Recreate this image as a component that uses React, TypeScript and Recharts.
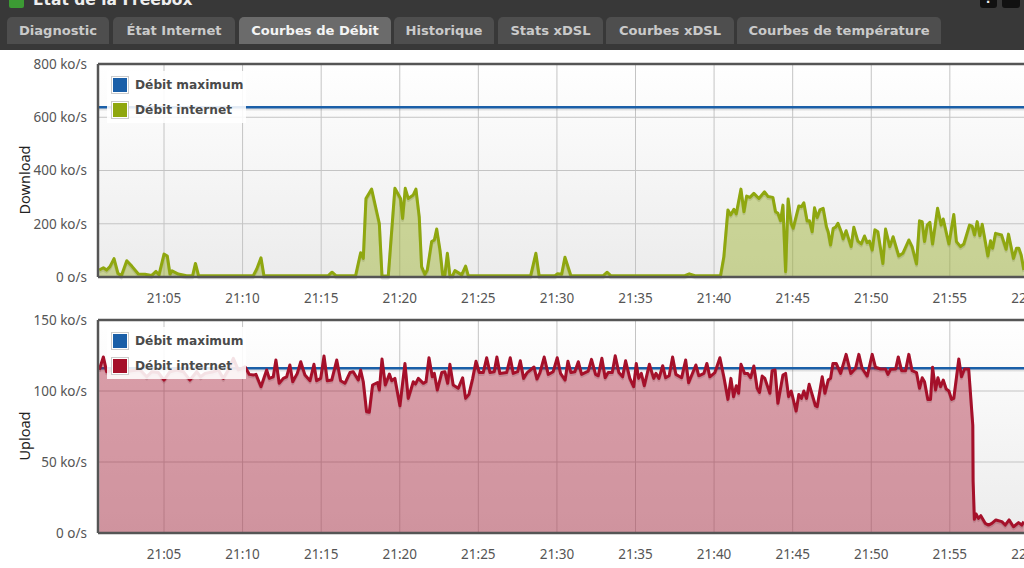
import { Area, CartesianGrid, ComposedChart, Legend, ReferenceLine, XAxis, YAxis } from "recharts";

// all times are minutes after 21:00
const timeTicks = [5, 10, 15, 20, 25, 30, 35, 40, 45, 50, 55, 60];
const xDomain = [0.8, 60.8];
const maxTimes = [0.8, 60.8];

const downTicks = [0, 200, 400, 600, 800];
const downMax = [638, 638];
const downTimes = [
  0.88, 1.14, 1.35, 1.56, 1.82, 2.07, 2.28, 2.63, 2.95, 3.37, 3.79, 4.22, 4.49, 4.68, 5.0, 5.21, 5.38, 5.51, 5.91, 6.44,
  6.82, 7.0, 7.2, 10.68, 10.9, 11.17, 11.36, 15.45, 15.69, 15.94, 17.19, 17.51, 17.68, 17.85, 18.21, 18.7, 18.87, 19.27,
  19.69, 20.05, 20.18, 20.35, 20.54, 20.86, 21.03, 21.24, 21.39, 21.6, 21.75, 22.03, 22.2, 22.35, 22.56, 22.73, 22.87,
  23.03, 23.19, 23.36, 23.51, 23.94, 24.19, 24.36, 28.33, 28.66, 28.87, 29.87, 30.04, 30.3, 30.51, 30.89, 32.95, 33.2,
  33.42, 38.14, 38.42, 38.78, 40.41, 40.62, 40.88, 41.05, 41.26, 41.41, 41.71, 41.9, 42.07, 42.28, 42.53, 42.85, 43.21,
  43.44, 43.74, 43.91, 44.06, 44.23, 44.38, 44.55, 44.71, 44.9, 45.03, 45.39, 45.56, 45.71, 45.92, 46.07, 46.24, 46.39,
  46.56, 46.73, 46.94, 47.15, 47.26, 47.41, 47.58, 47.73, 47.88, 48.09, 48.21, 48.4, 48.72, 48.89, 49.15, 49.36, 49.57,
  49.74, 49.89, 50.06, 50.23, 50.42, 50.74, 50.91, 51.18, 51.39, 51.75, 52.01, 52.39, 52.6, 52.88, 53.07, 53.24, 53.39,
  53.56, 53.73, 53.9, 54.22, 54.45, 54.58, 54.94, 55.25, 55.42, 55.68, 55.89, 56.25, 56.42, 56.57, 56.74, 56.91, 57.06,
  57.42, 57.59, 57.72, 57.91, 58.29, 58.58, 58.73, 59.05, 59.24, 59.39, 59.54, 59.71,
];
const downValues = [
  26, 35, 26, 39, 69, 14, 4, 61, 41, 11, 10, 6, 21, 8, 86, 79, 11, 23, 11, 5,
  5, 51, 5, 5, 30, 72, 5, 5, 18, 5, 5, 91, 70, 295, 330, 201, 4, 4,
  333, 295, 220, 333, 295, 308, 330, 226, 39, 10, 26, 133, 139, 180, 101, 8, 8,
  89, 5, 5, 24, 8, 41, 5, 5, 89, 5, 5, 12, 10, 74, 5, 5, 18,
  5, 5, 12, 5, 5, 76, 252, 233, 254, 237, 330, 245, 304, 299, 314, 295, 320,
  302, 299, 245, 239, 211, 270, 20, 293, 202, 183, 267, 264, 279, 210, 211, 170, 260,
  223, 252, 258, 189, 170, 120, 183, 187, 202, 170, 143, 174, 114, 187, 135, 124, 154,
  129, 135, 101, 177, 170, 51, 180, 114, 151, 79, 89, 139, 114, 49, 211, 208, 133,
  195, 205, 124, 258, 195, 218, 124, 235, 133, 114, 124, 195, 191, 158, 208, 155, 198,
  79, 136, 108, 164, 158, 104, 161, 70, 108, 108, 83, 26,
];

const upTicks = [0, 50, 100, 150];
const upMax = [116, 116];
const upTimes = [
  0.88, 1.14, 1.35, 1.78, 2.41, 3.47, 3.9, 4.22, 4.64, 5.0, 5.38, 5.81, 6.23, 6.65, 7.08, 7.33, 7.61, 8.14, 8.46, 8.77,
  9.09, 9.41, 9.73, 10.15, 10.43, 10.68, 10.85, 11.17, 11.53, 11.7, 11.95, 12.12, 12.33, 12.59, 12.8, 13.01, 13.19,
  13.48, 13.7, 13.97, 14.29, 14.54, 14.71, 14.97, 15.18, 15.39, 15.67, 15.99, 16.24, 16.51, 16.83, 17.04, 17.36, 17.51,
  17.68, 17.89, 18.06, 18.27, 18.59, 18.7, 18.87, 19.08, 19.34, 19.49, 19.69, 20.01, 20.33, 20.54, 20.86, 21.0, 21.18,
  21.5, 21.67, 21.86, 22.07, 22.2, 22.39, 22.67, 22.87, 23.05, 23.19, 23.4, 23.72, 24.0, 24.19, 24.4, 24.64, 24.85,
  25.06, 25.31, 25.53, 25.74, 26.01, 26.18, 26.37, 26.8, 27.03, 27.22, 27.5, 27.67, 27.88, 28.11, 28.54, 28.73, 28.92,
  29.19, 29.45, 29.76, 30.02, 30.23, 30.52, 30.7, 30.89, 31.14, 31.36, 31.57, 31.99, 32.2, 32.46, 32.63, 32.86, 33.07,
  33.26, 33.52, 33.71, 33.94, 34.18, 34.37, 34.64, 34.88, 35.05, 35.2, 35.37, 35.56, 35.88, 36.16, 36.3, 36.49, 36.73,
  36.92, 37.14, 37.36, 37.57, 37.93, 38.19, 38.38, 38.84, 39.03, 39.35, 39.54, 39.73, 40.05, 40.37, 40.62, 40.88, 41.07,
  41.24, 41.41, 41.56, 41.71, 41.94, 42.14, 42.32, 42.53, 42.74, 42.89, 43.06, 43.23, 43.55, 43.69, 43.88, 44.06, 44.38,
  44.55, 44.74, 44.91, 45.22, 45.39, 45.56, 45.71, 45.88, 46.05, 46.45, 46.56, 46.88, 47.05, 47.26, 47.41, 47.56, 47.77,
  48.05, 48.4, 48.7, 49.0, 49.21, 49.42, 49.74, 50.06, 50.27, 50.59, 50.91, 51.06, 51.23, 51.55, 51.72, 51.93, 52.18,
  52.39, 52.6, 52.88, 53.07, 53.24, 53.39, 53.6, 53.77, 53.9, 54.09, 54.24, 54.41, 54.58, 54.77, 54.94, 55.11, 55.25,
  55.57, 55.74, 55.93, 56.2, 56.46, 56.48, 56.56, 56.67, 56.82, 56.97, 57.25, 57.46, 57.67, 57.93, 58.31, 58.52, 58.77,
  59.05, 59.37, 59.58, 59.71,
];
const upValues = [
  115, 124, 113.6, 114.8, 113.6, 115, 110, 113.6, 113, 107.7, 113.6, 114.8, 113.6, 107.7, 113.6, 110, 112.4, 113.6, 114.8, 108.9,
  114.8, 123, 114.8, 117, 111.7, 111.2, 111.7, 103, 114.8, 108.9, 110, 121.8, 105.4, 108.9, 110, 118.3, 106.5,
  112.4, 120.6, 111.2, 107.2, 118.8, 107.2, 108.9, 124.6, 107.2, 107.7, 121.8, 107.2, 105.4, 113, 113.6, 107.7, 114.8,
  106.5, 85.4, 85, 104.2, 106, 100.7, 122.5, 104.2, 111.9, 107.2, 108.9, 89.6, 119.4, 94.8, 106.5, 104.9, 108.9,
  105.4, 106.5, 123.4, 110, 112.4, 100.7, 113, 113.6, 105.4, 118.8, 104.2, 101.9, 109.3, 94.8, 97.6, 108.9, 121,
  113, 113, 123.4, 113, 113.6, 124, 112.4, 113, 123.4, 112.4, 113.6, 121.3, 108.9, 113, 116.9, 108.4, 113,
  123.9, 111.7, 113.6, 123.4, 112.4, 107.7, 121, 113, 113.6, 120.6, 111.7, 114, 122.3, 111.7, 110.7, 123, 109.3,
  113, 113, 124.8, 113, 110, 121.3, 108.9, 103, 119.4, 108.9, 112.4, 103.7, 118.8, 108.9, 112.4, 108.9, 117.8,
  109.3, 110.7, 124, 111.7, 109.3, 121.8, 105.8, 118.3, 110.7, 112.4, 119.4, 110, 113, 123.4, 110, 94.1, 108.9,
  96, 103.7, 98.4, 118.8, 112.4, 112.4, 109.3, 117.6, 101.9, 99, 110.5, 108.9, 98.4, 114.3, 114.8, 91.3, 111.2,
  112.4, 96, 100, 85.9, 97.6, 94.8, 100, 94.8, 104.7, 89.6, 88.9, 110, 98.4, 107.7, 108.9, 119.4, 119.4,
  112.4, 125.8, 112.4, 116, 125.8, 116, 110.5, 125.8, 116.7, 115.5, 115.5, 111.7, 115.3, 115.5, 124, 114.3, 114.3,
  125.8, 114.3, 113, 101.9, 109.3, 106.5, 94.1, 94.1, 116.7, 100.7, 109.3, 103, 107.7, 101.4, 100, 94.1, 94.8,
  122.5, 110, 115.5, 115.5, 76, 37, 9.6, 13.4, 10.3, 12.2, 6.8, 5.6, 6.8, 9.2, 8, 5.6, 9.2,
  4.4, 7.3, 5.6, 8,
];

const tabNames = ["Diagnostic", "État Internet", "Courbes de Débit", "Historique", "Stats xDSL", "Courbes xDSL", "Courbes de température"];
const tabLefts = [7, 113, 239, 394, 498, 606, 737];
const tabWidths = [102, 122, 152, 100, 105, 128, 204];

const fmtTime = (t: number) => (t >= 60 ? "22:00" : `21:${String(t).padStart(2, "0")}`);
const fmtRate = (v: number) => (v === 0 ? "0 o/s" : `${v} ko/s`);
const toRows = (times: number[], values: number[]) => times.map((t, i) => ({ t, value: values[i] }));

const tickStyle = { fill: "#555", fontSize: 13.5, fontFamily: "'Noto Sans'" };
const shadow = { transform: "translateY(2px)" };

function ChartLegend({ payload }: any) {
  const items = (payload || []).filter((p: any) => p.value !== "value");
  return (
    <div style={{ background: "rgba(255,255,255,0.88)", width: 139, height: 52, position: "relative" }}>
      {items.map((p: any, i: number) => (
        <div key={p.value} style={{ position: "absolute", left: 4, top: 3 + i * 24.5, display: "flex", alignItems: "center", height: 22 }}>
          <span style={{ width: 14, height: 14, border: "1px solid #ccc", padding: 1, background: "#fff", display: "inline-block", boxSizing: "content-box" }}>
            <span style={{ display: "block", width: 14, height: 14, background: p.color }} />
          </span>
          <span style={{ marginLeft: 6, font: "bold 12.2px 'DejaVu Sans'", color: "#4a4a4a", whiteSpace: "nowrap" }}>{p.value}</span>
        </div>
      ))}
    </div>
  );
}

function RateChart({ id, top, label, ticks, times, values, maxValues, color }: any) {
  const yMax = ticks[ticks.length - 1];
  const rows = toRows(times, values);
  const maxRows = toRows(maxTimes, maxValues);
  return (
    <div style={{ position: "absolute", left: 0, top }}>
      <ComposedChart width={1060} height={260} margin={{ top: 14, right: 19, bottom: 0, left: 0 }}>
        <defs>
          <linearGradient id={id} x1="0" y1="0" x2="0" y2="1">
            <stop offset="0%" stopColor="#ffffff" />
            <stop offset="100%" stopColor="#ececec" />
          </linearGradient>
        </defs>
        <CartesianGrid fill={`url(#${id})`} fillOpacity={1} stroke="#c4c4c4" strokeWidth={1} />
        <XAxis
          dataKey="t"
          type="number"
          domain={xDomain}
          ticks={timeTicks}
          allowDataOverflow
          tickFormatter={fmtTime}
          height={33}
          tick={tickStyle}
          tickLine={false}
          tickMargin={10}
          axisLine={{ stroke: "#555", strokeWidth: 2.5 }}
        />
        <YAxis
          type="number"
          domain={[0, yMax]}
          ticks={ticks}
          width={98}
          tickFormatter={fmtRate}
          tick={tickStyle}
          tickLine={false}
          tickMargin={5}
          axisLine={{ stroke: "#555", strokeWidth: 2.5 }}
          label={{ value: label, angle: -90, position: { x: 30, y: 116 }, style: { fill: "#222", fontSize: 14.5, fontFamily: "'Noto Sans'", textAnchor: "middle" } }}
        />
        <ReferenceLine y={yMax} stroke="#555" strokeWidth={2.5} />
        <Area data={maxRows} dataKey="value" legendType="none" type="linear" fill="none" stroke="rgba(0,0,0,0.1)" strokeWidth={2.5} dot={false} style={shadow} isAnimationActive={false} />
        <Area
          data={maxRows}
          dataKey="value"
          name="Débit maximum"
          type="linear"
          fill="none"
          stroke="#1a5fa8"
          strokeWidth={2.5}
          dot={false}
          isAnimationActive={false}
        />
        <Area data={rows} dataKey="value" legendType="none" type="linear" fill="none" stroke="rgba(0,0,0,0.13)" strokeWidth={3} strokeLinejoin="round" dot={false} style={shadow} isAnimationActive={false} />
        <Area
          data={rows}
          dataKey="value"
          name="Débit internet"
          type="linear"
          baseValue={0}
          fill={color}
          fillOpacity={0.4}
          stroke={color}
          strokeWidth={3}
          strokeLinejoin="round"
          dot={false}
          isAnimationActive={false}
        />
        <Legend
          layout="vertical"
          align="center"
          verticalAlign="middle"
          itemSorter={(item: any) => (item.value === "Débit maximum" ? 0 : 1)}
          content={<ChartLegend />}
          wrapperStyle={{ left: 107, top: 21, width: 139, height: 52 }}
        />
      </ComposedChart>
    </div>
  );
}

export default function App() {
  return (
    <div style={{ position: "absolute", left: 0, top: 0, width: 1024, height: 568, overflow: "hidden", background: "#fff" }}>
      <div style={{ position: "absolute", left: 0, top: 0, width: 1024, height: 50, background: "#383838" }} />
      <div style={{ position: "absolute", left: 9, top: -6, width: 15, height: 14, background: "#3c9a34", borderRadius: 2 }} />
      <div style={{ position: "absolute", left: 33, top: -9, font: "bold 15.5px 'DejaVu Sans'", color: "#eee", whiteSpace: "nowrap" }}>État de la Freebox</div>
      <div style={{ position: "absolute", left: 980, top: -8, width: 17, height: 16, background: "#111", borderRadius: 3, color: "#eee", font: "bold 12px 'DejaVu Sans'", textAlign: "center" }}>?</div>
      <div style={{ position: "absolute", left: 1002, top: -8, width: 18, height: 16, background: "#111", borderRadius: 3, color: "#eee", font: "bold 12px 'DejaVu Sans'", textAlign: "center" }}>–</div>
      {tabNames.map((name, i) => (
        <div
          key={name}
          style={{
            position: "absolute",
            left: tabLefts[i],
            top: 17,
            width: tabWidths[i],
            height: 27,
            textAlign: "center",
            borderRadius: "5px 5px 0 0",
            background: i === 2 ? "#6b6b6b" : "#4e4e4e",
            color: i === 2 ? "#f4f4f4" : "#cacaca",
            font: "bold 13.1px/27px 'DejaVu Sans'",
            whiteSpace: "nowrap",
          }}
        >
          {name}
        </div>
      ))}
      <RateChart id="downBg" top={50} label="Download" ticks={downTicks} times={downTimes} values={downValues} maxValues={downMax} color="#8fa70f" />
      <RateChart id="upBg" top={306} label="Upload" ticks={upTicks} times={upTimes} values={upValues} maxValues={upMax} color="#a5102a" />
    </div>
  );
}
